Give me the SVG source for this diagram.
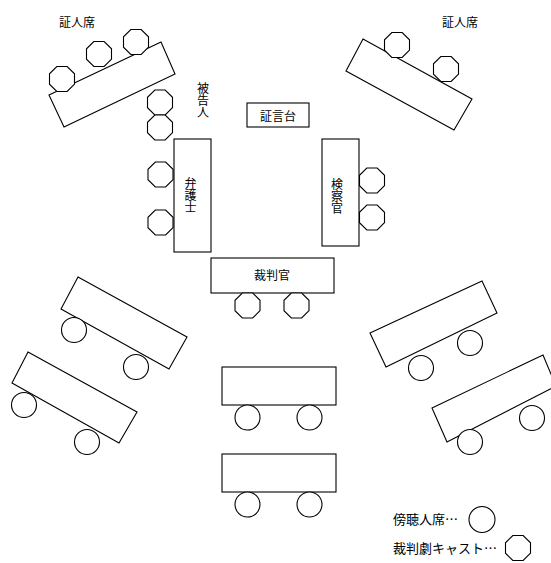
<svg xmlns="http://www.w3.org/2000/svg" xmlns:xlink="http://www.w3.org/1999/xlink" width="551" height="563" viewBox="0 0 551 563">
<style>
.t{fill:none;stroke:#000;stroke-width:1.1}
.c{fill:#fff;stroke:#000;stroke-width:1.1}
text{font-family:"Noto Sans CJK JP","Noto Sans CJK SC",sans-serif;font-size:12px;fill:#000}
.v{writing-mode:vertical-rl}
.lg{font-size:13px}
</style>
<defs>
<path id="oct" d="M12.5,5.18 L5.18,12.5 L-5.18,12.5 L-12.5,5.18 L-12.5,-5.18 L-5.18,-12.5 L5.18,-12.5 L12.5,-5.18 Z"/>
</defs>
<rect width="551" height="563" fill="#fff"/>
<g id="connectors"/>

<g id="witness-left">
<polygon class="t" points="49,95 161,42 175,74 64,127"/>
<use href="#oct" class="c" x="62" y="79"/>
<use href="#oct" class="c" x="99" y="54"/>
<use href="#oct" class="c" x="136" y="42"/>
<text x="77" y="26.5" text-anchor="middle">証人席</text>
</g>

<g id="witness-right">
<polygon class="t" points="346,71 363,39 472,99 454,130"/>
<use href="#oct" class="c" x="397" y="45"/>
<use href="#oct" class="c" x="446" y="69"/>
<text x="460" y="26.5" text-anchor="middle">証人席</text>
</g>

<g id="defendant">
<use href="#oct" class="c" x="160" y="102.5"/>
<use href="#oct" class="c" x="160" y="127.5"/>
<text class="v" x="203" y="82">被告人</text>
</g>

<g id="witness-stand">
<rect class="t" x="247" y="103" width="62" height="24"/>
<text x="278" y="120.5" text-anchor="middle">証言台</text>
</g>

<g id="defense">
<rect class="t" x="174" y="139" width="37" height="113"/>
<use href="#oct" class="c" x="160.5" y="174.5"/>
<use href="#oct" class="c" x="160.5" y="222.5"/>
<text class="v" x="190.5" y="177">弁護士</text>
</g>

<g id="prosecutor">
<rect class="t" x="322" y="139" width="37" height="107"/>
<use href="#oct" class="c" x="372" y="180.5"/>
<use href="#oct" class="c" x="372" y="217.5"/>
<text class="v" x="337" y="178">検察官</text>
</g>

<g id="judge">
<rect class="t" x="211" y="258" width="123" height="35"/>
<use href="#oct" class="c" x="247.5" y="305.5"/>
<use href="#oct" class="c" x="296.5" y="305.5"/>
<text x="272" y="279.5" text-anchor="middle">裁判官</text>
</g>

<g id="gallery-left-1">
<polygon class="t" points="78,277 187,337 169,369 61,309"/>
<circle class="c" cx="74" cy="330" r="12.5"/>
<circle class="c" cx="136" cy="367" r="12.5"/>
</g>

<g id="gallery-left-2">
<polygon class="t" points="28,352 137,412 119,443 12,383"/>
<circle class="c" cx="24" cy="405" r="12.5"/>
<circle class="c" cx="87" cy="442" r="12.5"/>
</g>

<g id="gallery-right-1">
<polygon class="t" points="370,333 482,281 497,313 386,367"/>
<circle class="c" cx="421" cy="368" r="12.5"/>
<circle class="c" cx="470" cy="343" r="12.5"/>
</g>

<g id="gallery-right-2">
<polygon class="t" points="432,408 543,355 556,386 447,442"/>
<circle class="c" cx="532" cy="418" r="12.5"/>
<circle class="c" cx="470" cy="442" r="12.5"/>
</g>

<g id="gallery-center-1">
<rect class="t" x="222" y="367" width="114" height="38"/>
<circle class="c" cx="247.5" cy="417.5" r="12.5"/>
<circle class="c" cx="309.5" cy="417.5" r="12.5"/>
</g>

<g id="gallery-center-2">
<rect class="t" x="222" y="454" width="114" height="38"/>
<circle class="c" cx="247.5" cy="504.5" r="12.5"/>
<circle class="c" cx="309.5" cy="504.5" r="12.5"/>
</g>

<g id="legend">
<text class="lg" x="393" y="523.5">傍聴人席…</text>
<circle class="c" cx="482" cy="519.5" r="13"/>
<text class="lg" x="393" y="553">裁判劇キャスト…</text>
<use href="#oct" class="c" x="518" y="548"/>
</g>
</svg>
